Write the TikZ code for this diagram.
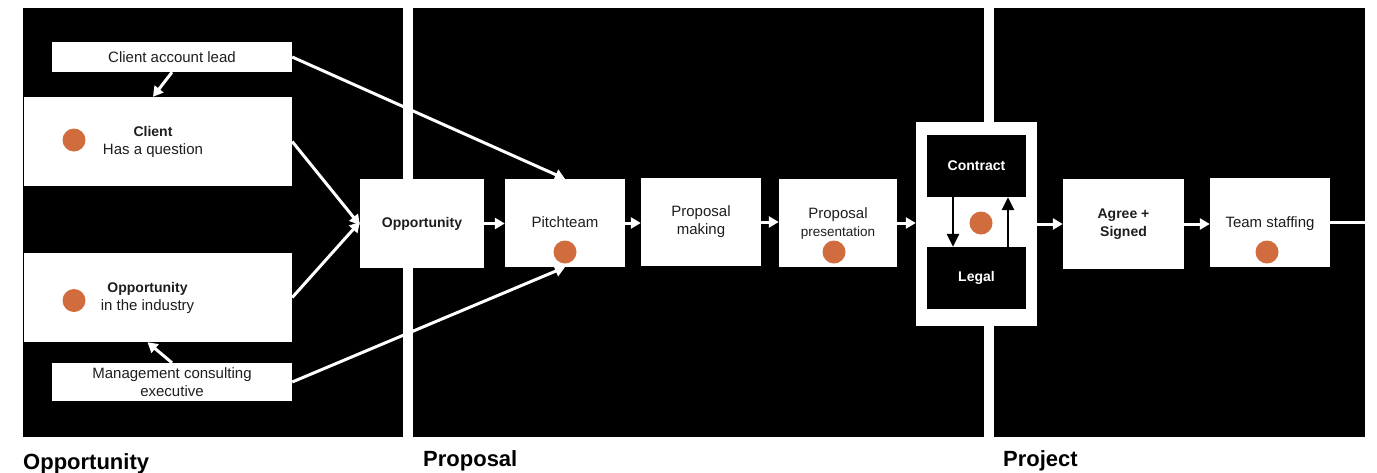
\documentclass[tikz,border=0pt]{standalone}
\usepackage{fontspec}
\setmainfont{Liberation Sans}
\usetikzlibrary{arrows.meta}
\definecolor{dot}{RGB}{208,108,62}
\definecolor{ink}{RGB}{30,30,30}

\begin{document}
\begin{tikzpicture}[x=1pt,y=-1pt,
  panel/.style={fill=black},
  box/.style={fill=white, inner sep=0pt, text=ink, align=center,
              font=\fontsize{15}{18}\selectfont},
  darkbox/.style={fill=black, inner sep=0pt, text=white, align=center,
              font=\bfseries\fontsize{14}{18}\selectfont},
  label/.style={inner sep=0pt, text=ink, align=center,
              font=\fontsize{15}{18}\selectfont},
  dotmark/.style={circle, fill=dot, minimum size=23pt, inner sep=0pt},
  flow/.style={draw=white, line width=3pt, -{Triangle[length=10pt,width=11pt]}},
  loopflow/.style={draw=black, line width=2.8pt, -{Triangle[length=13pt,width=12pt]}},
  heading/.style={anchor=base west, inner sep=0pt, text=black,
              font=\bfseries\fontsize{22}{26}\selectfont}
]
\useasboundingbox (0,0) rectangle (1377,472);
\fill[white] (0,0) rectangle (1377,472);

% phase panels
\fill[panel] (23,8) rectangle (403,437);
\fill[panel] (413,8) rectangle (984,437);
\fill[panel] (994,8) rectangle (1365,437);

% phase headings
\node[heading] (hopp) at (23,469) {Opportunity};
\node[heading] (hprop) at (423,466) {Proposal};
\node[heading] (hproj) at (1003,466) {Project};

% opportunity sources
\node[box, minimum width=240pt, minimum height=30pt] (lead) at (172,57) {Client account lead};
\node[box, minimum width=268pt, minimum height=89pt] (client) at (158,141.5) {};
\node[label] (clienttext) at (153,142) {{\bfseries\fontsize{14}{18}\selectfont Client}\\Has a question};
\node[dotmark] (clientdot) at (74,140) {};

\node[box, minimum width=268pt, minimum height=89pt] (industry) at (158,297.5) {};
\node[label] (industrytext) at (147.5,298) {{\bfseries\fontsize{14}{18}\selectfont Opportunity}\\in the industry};
\node[dotmark] (industrydot) at (74,300.5) {};

\node[box, minimum width=240pt, minimum height=38pt] (mgmt) at (172,382) {Management consulting\\executive};

% main flow
\node[box, minimum width=124pt, minimum height=89pt, font=\bfseries\fontsize{14}{18}\selectfont] (opp) at (422,223.5) {Opportunity};
\node[box, minimum width=120pt, minimum height=88pt] (pitch) at (565,223) {};
\node[label] (pitchtext) at (565,222) {Pitchteam};
\node[dotmark] (pitchdot) at (565,252) {};
\node[box, minimum width=120pt, minimum height=88pt] (making) at (701,222) {Proposal\\making};
\node[box, minimum width=118pt, minimum height=88pt] (pres) at (838,223) {};
\node[label] (prestext) at (838,223) {Proposal\\{\fontsize{13.5}{18}\selectfont presentation}};
\node[dotmark] (presdot) at (834,252) {};

% contract / legal loop
\node[box, minimum width=121pt, minimum height=204pt] (legalgroup) at (976.5,224) {};
\node[darkbox, minimum width=99pt, minimum height=62pt] (contract) at (976.5,166) {Contract};
\node[darkbox, minimum width=99pt, minimum height=62pt] (legal) at (976.5,278) {Legal};
\node[dotmark] (legaldot) at (981,223) {};

\node[box, minimum width=121pt, minimum height=90pt, font=\bfseries\fontsize{14}{18}\selectfont] (agree) at (1123.5,224) {Agree +\\Signed};
\node[box, minimum width=120pt, minimum height=89pt] (team) at (1270,222.5) {};
\node[label] (teamtext) at (1270,223.5) {Team staffing};
\node[dotmark] (teamdot) at (1267,252) {};
\coordinate (panelend) at (1365,222.5);

% connectors
\draw[flow] (lead.south) -- (client.north -| clienttext.center);
\draw[flow] (mgmt.north) -- (industry.south -| industrytext.center);
\draw[flow] (client.east) -- ([yshift=-1.5pt]opp.west);
\draw[flow] (industry.east) -- ([yshift=1.5pt]opp.west);
\draw[flow] (lead.east) -- (pitch.north);
\draw[flow] (mgmt.east) -- (pitch.south);

\draw[flow] (opp.east) -- (opp.east -| pitch.west);
\draw[flow] (pitch.east) -- (pitch.east -| making.west);
\draw[flow] (making.east) -- (making.east -| pres.west);
\draw[flow] (pres.east) -- (pres.east -| legalgroup.west);
\draw[flow] (legalgroup.east) -- (legalgroup.east -| agree.west);
\draw[flow] (agree.east) -- (agree.east -| team.west);
\draw[draw=white, line width=3pt] (team.east) -- (panelend);

\draw[loopflow] ([xshift=-23.5pt]contract.south) -- ([xshift=-23.5pt]legal.north);
\draw[loopflow] ([xshift=31.5pt]legal.north) -- ([xshift=31.5pt]contract.south);
\end{tikzpicture}
\end{document}
